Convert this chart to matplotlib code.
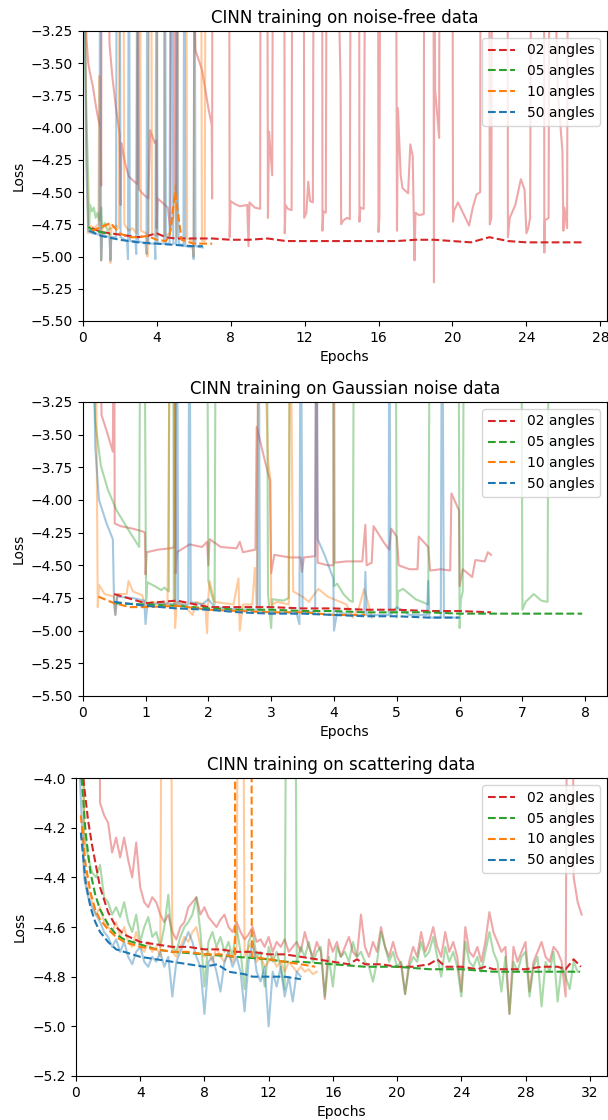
import matplotlib
matplotlib.use("Agg")
import matplotlib.pyplot as plt
import numpy as np

# loss values that lie above the visible range (spikes that leave the chart)
HIGH = -2.0
HIGH_SC = -1.0

labels = ["02 angles", "05 angles", "10 angles", "50 angles"]
colors = ["tab:red", "tab:green", "tab:orange", "tab:blue"]

# ---------------- noise-free data ----------------
nf_red_x = [0.15, 0.2, 0.3, 0.4, 0.55, 0.7, 0.85, 0.98, 1.0, 1.02, 1.35, 1.45, 1.6, 1.8, 2.0, 2.05, 2.1, 2.3, 2.5, 2.8,
            2.98, 3.0, 3.05, 3.3, 3.55, 3.65, 3.9, 3.98, 4.0, 4.05, 4.3, 4.6, 4.75, 4.8, 4.95, 5.0, 5.05, 5.12, 5.9, 6.1,
            6.45, 6.8, 6.98, 7.0, 7.02, 7.92, 7.95, 8.0, 8.2, 8.5, 8.9, 8.97, 9.02, 9.3, 9.6, 9.62, 9.98, 10.02, 10.08,
            10.25, 10.3, 10.9, 10.93, 10.97, 11.1, 11.3, 11.34, 11.96, 11.98, 12.1, 12.2, 12.3, 12.45, 12.5, 12.95,
            12.97, 13.02, 13.15, 13.2, 13.7, 13.95, 13.98, 14.1, 14.3, 14.45, 14.5, 14.95, 14.97, 15.02, 15.2, 15.3,
            15.97, 16.0, 16.05, 16.1, 16.94, 17.0, 17.05, 17.2, 17.3, 17.6, 17.72, 17.85, 17.95, 18.0, 18.2, 18.45,
            18.47, 18.97, 19.0, 19.02, 19.06, 19.28, 19.3, 20.0, 20.03, 20.1, 20.3, 20.5, 20.7, 20.9, 21.1, 21.3, 21.5,
            21.52, 21.98, 22.02, 22.1, 22.15, 22.98, 23.0, 23.1, 23.4, 23.7, 23.9, 24.0, 24.1, 24.2, 24.27, 24.95,
            24.97, 25.0, 25.2, 25.25, 25.4, 25.7, 25.95, 26.0, 26.05, 26.2, 26.25]
nf_red_y = [HIGH, -3.30, -3.50, -3.58, -3.68, -3.82, -3.94, -4.00, -4.45, HIGH, HIGH, -3.35, -3.60, -3.85, -4.05, -4.60,
            -4.12, -4.28, -4.38, -4.42, -4.44, HIGH, -4.48, -4.52, -4.55, -4.02, -4.12, -4.10, -4.78, -4.55, -4.58,
            -4.62, -4.80, HIGH, HIGH, -4.45, -4.55, HIGH, HIGH, -3.40, -3.55, -3.85, -3.98, -4.55, HIGH, HIGH, -4.85,
            -4.57, -4.59, -4.61, -4.60, -4.92, -4.58, -4.62, -4.63, HIGH, HIGH, -4.70, -4.03, -4.37, HIGH, HIGH, -4.82,
            -4.60, -4.63, -4.64, HIGH, HIGH, -4.70, -4.66, -4.42, -4.57, -4.58, HIGH, HIGH, -4.80, -4.65, -4.66, HIGH,
            HIGH, -3.65, -4.75, -4.72, -4.70, -4.71, HIGH, HIGH, -4.73, -4.62, -4.63, HIGH, HIGH, -4.81, -4.70, HIGH,
            HIGH, -4.80, -3.85, -4.37, -4.47, -4.51, -4.13, -4.22, -5.03, -4.66, -4.68, -4.67, HIGH, HIGH, -5.20, HIGH,
            -3.70, -4.08, HIGH, HIGH, -4.73, -4.64, -4.58, -4.64, -4.70, -4.76, -4.62, -4.52, -4.50, HIGH, HIGH, -4.75,
            -4.70, HIGH, HIGH, -4.85, -4.70, -4.60, -4.40, -4.48, -4.82, -4.78, -4.70, HIGH, HIGH, -4.97, -4.72, -4.70,
            HIGH, HIGH, -3.72, -4.19, -4.80, -4.62, -4.78, HIGH]
nf_green_x = [0.05, 0.1, 0.2, 0.3, 0.35, 0.4, 0.5, 0.6, 0.7, 0.8, 0.9, 1.0, 1.05, 1.2, 1.35, 1.5]
nf_green_y = [HIGH, -3.30, -3.90, -4.40, -4.75, -4.60, -4.65, -4.62, -4.70, -4.66, -4.72, -4.62, -4.78, -4.74, -4.80, -4.78]
nf_orange_x = [0.1, 0.2, 0.3, 0.4, 0.6, 0.85, 0.9, 0.95, 1.0, 1.05, 1.3, 1.45, 1.5, 1.55, 1.8, 1.95, 2.0, 2.2, 2.25, 2.5,
               2.7, 2.9, 3.0, 3.1, 3.15, 3.45, 3.5, 3.55, 3.6, 3.7, 3.75, 4.0, 4.05, 4.4, 4.45, 4.7, 4.9, 5.0, 5.1,
               5.2, 5.6, 5.65, 5.95, 6.0, 6.05, 6.4, 6.45, 6.6, 6.65]
nf_orange_y = [HIGH, -4.10, -4.82, -4.76, -4.78, -4.75, -3.60, -4.80, -5.03, -4.78, -4.76, -4.75, -5.05, -4.78, -4.76,
               -4.78, HIGH, HIGH, -4.75, -4.80, -4.78, -4.82, HIGH, HIGH, -4.80, -4.82, -5.00, -4.80, HIGH, HIGH, -4.82,
               -4.84, HIGH, HIGH, -4.84, -4.82, -4.70, -4.45, -4.85, HIGH, HIGH, -4.86, -4.88, -5.00, HIGH, HIGH, -4.88,
               -4.88, HIGH]
nf_blue_x = [0.05, 0.2, 0.3, 0.5, 0.9, 0.95, 1.0, 1.05, 1.45, 1.5, 1.55, 1.8, 1.85, 2.0, 2.05, 2.4, 2.45, 2.5, 2.55,
             2.85, 2.9, 2.95, 3.0, 3.4, 3.45, 3.5, 3.55, 3.9, 3.93, 4.0, 4.05, 4.4, 4.45, 4.5, 4.7, 4.75, 4.85, 4.9,
             5.05, 5.1, 5.15, 5.2, 5.45, 5.5, 5.55, 5.95, 6.0, 6.05, 6.1, 6.5]
nf_blue_y = [HIGH, -4.30, -4.80, -4.82, -4.83, HIGH, -5.03, -4.83, -4.85, -5.03, -4.85, -4.85, HIGH, HIGH, -4.85, -4.88,
             -5.02, HIGH, -4.88, -4.88, -4.98, HIGH, -4.88, -4.90, -4.98, HIGH, -4.90, -4.90, -5.02, HIGH, -4.90, -4.90,
             HIGH, -4.90, -4.90, HIGH, HIGH, -4.90, -4.90, HIGH, -4.55, -4.90, -4.92, HIGH, -4.92, -4.93, -5.02, HIGH,
             -4.92, -4.93]

nf_red_dash_x = [0.5, 1, 1.5, 2, 2.5, 3, 3.5, 4, 4.5, 5, 5.5, 6, 7, 8, 9, 10, 11, 12, 13, 14, 15, 16, 17, 18, 19, 20,
                 21, 22, 23, 24, 25, 26, 27]
nf_red_dash_y = [-4.78, -4.81, -4.82, -4.83, -4.84, -4.85, -4.84, -4.82, -4.85, -4.86, -4.86, -4.86, -4.86, -4.87,
                 -4.87, -4.86, -4.88, -4.88, -4.88, -4.88, -4.88, -4.88, -4.88, -4.87, -4.87, -4.88, -4.89, -4.85,
                 -4.88, -4.89, -4.89, -4.89, -4.89]
nf_green_dash_x = [0.3, 0.6, 1.0, 1.5]
nf_green_dash_y = [-4.77, -4.80, -4.81, -4.83]
nf_orange_dash_x = [0.5, 1.0, 1.5, 2.0, 2.5, 3.0, 3.5, 4.0, 4.5, 4.7, 5.0, 5.35, 6.0, 6.5, 7.0]
nf_orange_dash_y = [-4.80, -4.77, -4.74, -4.82, -4.85, -4.85, -4.84, -4.87, -4.88, -4.84, -4.50, -4.87, -4.90, -4.90,
                    -4.90]
nf_blue_dash_x = [0.35, 1, 2, 3, 4, 5, 6, 6.5]
nf_blue_dash_y = [-4.80, -4.84, -4.87, -4.89, -4.90, -4.91, -4.92, -4.92]

# ---------------- Gaussian noise data ----------------
ga_red_x = [0.26, 0.3, 0.4, 0.48, 0.5, 0.51, 0.6, 0.8, 0.95, 0.99, 1.0, 1.02, 1.2, 1.4, 1.46, 1.47, 1.48, 1.5, 1.7, 1.9,
            1.98, 2.0, 2.02, 2.2, 2.45, 2.5, 2.55, 2.75, 2.77, 2.9, 2.98, 3.0, 3.05, 3.3, 3.47, 3.49, 3.52, 3.7, 3.72,
            3.74, 3.9, 3.99, 4.0, 4.01, 4.2, 4.45, 4.5, 4.52, 4.6, 4.63, 4.8, 4.88, 4.91, 5.0, 5.03, 5.2, 5.33, 5.35,
            5.5, 5.53, 5.7, 5.85, 5.87, 5.99, 6.0, 6.05, 6.15, 6.2, 6.25, 6.4, 6.45, 6.5]
ga_red_y = [HIGH, -3.35, -3.50, -3.63, HIGH, -4.18, -4.20, -4.22, -4.24, -4.25, -4.57, -4.40, -4.38, -4.37, -4.36, HIGH,
            -4.56, -4.40, -4.34, -4.36, -4.32, -4.50, -4.30, -4.36, -4.37, -4.32, -4.40, -4.38, -3.44, -3.70, -3.85,
            -4.56, -4.42, -4.44, -4.44, -4.55, -4.44, -4.43, HIGH, -4.48, -4.50, -4.50, HIGH, -4.48, -4.47, -4.47,
            -4.19, -4.50, -4.48, -4.20, -4.33, -4.38, -4.22, -4.28, -4.50, -4.53, -4.53, -4.28, -4.36, -4.54, -4.53,
            -4.54, -3.95, -4.08, -4.66, -4.53, -4.57, -4.59, -4.46, -4.47, -4.40, -4.42]
ga_green_x = [0.1, 0.2, 0.29, 0.4, 0.54, 0.73, 0.9, 0.92, 0.98, 1.0, 1.01, 1.03, 1.15, 1.25, 1.3, 1.37, 1.38, 1.44, 1.45,
              1.5, 1.98, 2.0, 2.05, 2.1, 2.12, 2.93, 2.95, 3.0, 3.02, 3.2, 3.28, 3.3, 3.98, 4.0, 4.05, 4.15, 4.25, 4.3,
              4.32, 4.98, 5.0, 5.02, 5.1, 5.3, 5.5, 5.53, 5.98, 6.0, 6.02, 6.05, 6.07, 6.98, 7.0, 7.05, 7.18, 7.3, 7.4,
              7.42]
ga_green_y = [HIGH, -3.40, -3.74, -3.92, -4.08, -4.23, -4.36, HIGH, HIGH, -3.92, -4.78, -4.63, -4.66, -4.69, -4.67,
              -4.70, HIGH, HIGH, -4.80, HIGH, HIGH, -4.62, -4.72, -4.80, HIGH, HIGH, -4.72, -4.98, -4.76, -4.77, -4.75,
              HIGH, HIGH, -4.66, -4.64, -4.72, -4.77, -4.78, HIGH, HIGH, -4.90, -4.70, -4.68, -4.76, -4.80, HIGH, HIGH,
              -4.98, -4.76, -4.70, HIGH, HIGH, -4.84, -4.78, -4.72, -4.77, -4.78, HIGH]
ga_orange_x = [0.2, 0.24, 0.26, 0.35, 0.5, 0.52, 0.55, 0.7, 0.73, 0.8, 0.95, 1.0, 1.1, 1.35, 1.4, 1.45, 1.47, 1.5, 1.6,
               1.75, 1.8, 1.95, 1.98, 2.0, 2.02, 2.1, 2.4, 2.48, 2.5, 2.55, 2.7, 2.74, 2.77, 2.8, 2.85, 2.95, 2.99, 3.0,
               3.1, 3.28, 3.3, 3.35, 3.5, 3.6, 3.75, 3.9, 4.0, 4.2, 4.3, 4.4, 4.48, 4.55, 4.6]
ga_orange_y = [HIGH, -4.82, -4.65, -4.72, -4.74, -4.88, -4.72, -4.72, -4.62, -4.70, -4.73, -4.82, -4.78, -4.80, HIGH,
               HIGH, -4.98, -4.78, -4.80, -4.88, -4.78, -4.80, -5.02, -4.75, -4.62, -4.78, -4.80, -4.60, -5.00, -4.80,
               -4.80, -4.52, -4.82, HIGH, HIGH, -3.70, -3.85, -4.80, -4.78, -4.80, HIGH, -4.70, -4.74, -4.78, -4.68,
               -4.74, -4.76, -4.80, -4.90, -4.82, -4.68, -4.80, -4.90]
ga_blue_x = [0.15, 0.2, 0.26, 0.38, 0.48, 0.5, 0.52, 0.55, 0.8, 0.98, 1.0, 1.03, 1.3, 1.48, 1.5, 1.52, 1.68, 1.7, 1.72,
             1.9, 2.0, 2.1, 2.5, 2.78, 2.8, 2.82, 3.0, 3.4, 3.45, 3.47, 3.5, 3.7, 3.72, 3.74, 3.85, 3.95, 3.99, 4.0,
             4.05, 4.3, 4.48, 4.5, 4.52, 4.8, 4.87, 4.88, 4.9, 5.0, 5.2, 5.48, 5.5, 5.52, 5.7, 5.72, 5.75, 5.95]
ga_blue_y = [HIGH, -3.60, -4.00, -4.18, -4.30, -4.80, -4.88, -4.74, -4.75, -4.77, -4.95, -4.80, -4.79, -4.80, HIGH,
             -4.80, -4.80, HIGH, -4.78, -4.80, -4.76, -4.82, -4.84, -4.84, HIGH, -4.85, -4.86, -4.86, -4.95, HIGH,
             -4.86, -4.86, HIGH, -4.30, -4.42, -4.55, -4.60, -5.00, -4.86, -4.88, -4.88, -4.55, -4.88, -4.88, -4.88,
             HIGH, -4.88, -4.82, -4.88, -4.88, -4.62, -4.90, -4.90, HIGH, -4.90, -4.90]

ga_red_dash_x = [0.5, 1, 1.5, 2, 2.5, 3, 3.5, 4, 4.5, 5, 5.5, 6, 6.5]
ga_red_dash_y = [-4.72, -4.79, -4.77, -4.82, -4.82, -4.82, -4.83, -4.83, -4.84, -4.84, -4.85, -4.85, -4.86]
ga_green_dash_x = [0.5, 1, 1.5, 2, 2.5, 3, 3.5, 4, 4.5, 5, 5.5, 6, 6.5, 7, 7.5, 7.95]
ga_green_dash_y = [-4.79, -4.80, -4.81, -4.83, -4.84, -4.84, -4.85, -4.85, -4.86, -4.86, -4.86, -4.87, -4.87, -4.87,
                   -4.87, -4.87]
ga_orange_dash_x = [0.25, 0.5, 0.75, 1, 1.5, 2, 2.5, 3, 3.5, 4, 4.5]
ga_orange_dash_y = [-4.74, -4.79, -4.82, -4.82, -4.81, -4.84, -4.85, -4.86, -4.86, -4.88, -4.88]
ga_blue_dash_x = [0.5, 1, 1.5, 2, 2.5, 3, 3.5, 4, 4.5, 5, 5.5, 6]
ga_blue_dash_y = [-4.78, -4.81, -4.83, -4.84, -4.86, -4.87, -4.87, -4.88, -4.89, -4.89, -4.90, -4.90]

# ---------------- scattering data (raw loss sampled every 0.25 epochs) ----------------
sc_step = 0.25
sc_red_start = 1.25
sc_red_y = [HIGH_SC, -4.10, -4.15, -4.18, -4.30, -4.24, -4.32, -4.24, -4.33, -4.40, -4.26, -4.44, -4.50, -4.52, -4.48,
            -4.50, -4.55, -4.58, -4.55, -4.62, -4.65, -4.60, -4.58, -4.52, -4.50, -4.48, -4.55, -4.52, -4.56, -4.58,
            -4.60, -4.57, -4.55, -4.60, -4.62, -4.58, -4.62, -4.65, -4.63, -4.60, -4.66, -4.65, -4.68, -4.64, -4.70,
            -4.66, -4.68, -4.65, -4.70, -4.68, -4.66, -4.70, -4.62, -4.68, -4.72, -4.66, -4.70, -4.89, -4.65, -4.70,
            -4.66, -4.72, -4.68, -4.64, -4.70, -4.72, -4.55, -4.68, -4.72, -4.66, -4.70, -4.60, -4.68, -4.72, -4.66,
            -4.72, -4.75, -4.87, -4.74, -4.68, -4.72, -4.62, -4.70, -4.66, -4.60, -4.68, -4.72, -4.62, -4.70, -4.66,
            -4.72, -4.86, -4.60, -4.70, -4.72, -4.68, -4.74, -4.66, -4.54, -4.62, -4.66, -4.70, -4.68, -4.95, -4.68,
            -4.74, -4.70, -4.66, -4.86, -4.74, -4.70, -4.66, -4.72, -4.74, -4.68, -4.70, -4.74, -4.88, HIGH_SC,
            -4.40, -4.50, -4.55]
sc_green_start = 0.25
sc_green_y = [HIGH_SC, -4.22, -4.32, -4.38, -4.40, -4.35, -4.48, -4.50, -4.55, -4.52, -4.56, -4.50, -4.58, -4.62,
              -4.55, -4.66, -4.60, -4.56, -4.64, -4.62, -4.68, -4.60, -4.47, -4.68, -4.70, -4.64, -4.60, -4.58, -4.55,
              -4.48, -4.62, -4.84, -4.66, -4.62, -4.68, -4.64, -4.70, -4.66, -4.72, -4.60, -4.70, -4.85, -4.66, -4.62,
              -4.72, -4.70, -4.84, -4.68, -4.74, -4.70, -4.76, -4.85, HIGH_SC, HIGH_SC, -4.74, -4.68, -4.72, -4.66,
              -4.74, -4.70, -4.68, -4.88, -4.72, -4.84, -4.68, -4.72, -4.70, -4.74, -4.66, -4.72, -4.70, -4.74, -4.76,
              -4.82, -4.74, -4.62, -4.68, -4.74, -4.70, -4.76, -4.74, -4.87, -4.76, -4.72, -4.74, -4.66, -4.72, -4.70,
              -4.64, -4.72, -4.80, -4.68, -4.74, -4.70, -4.76, -4.88, -4.66, -4.74, -4.76, -4.72, -4.78, -4.70, -4.62,
              -4.70, -4.74, -4.86, -4.72, -4.95, -4.74, -4.78, -4.72, -4.70, -4.88, -4.76, -4.72, -4.92, -4.74, -4.78,
              -4.70, -4.90, -4.76, -4.80, -4.85, -4.74, -4.78]
sc_orange_start = 0.25
sc_orange_y = [HIGH_SC, -4.35, -4.45, -4.50, -4.55, -4.52, -4.58, -4.60, -4.62, -4.58, -4.64, -4.60, -4.66, -4.68,
               -4.62, -4.68, -4.70, -4.66, -4.70, -4.68, -4.72, HIGH_SC, HIGH_SC, -4.70, -4.72, -4.68, -4.64, -4.66,
               -4.62, -4.60, -4.68, -4.72, -4.70, -4.74, -4.68, -4.72, -4.74, -4.70, -4.74, -4.70, HIGH_SC, -4.72,
               -4.68, -4.66, -4.74, -4.72, -4.76, -4.74, -4.72, -4.76, -4.74, -4.78, -4.74, -4.76, -4.78, -4.76,
               -4.78, -4.77, -4.79, -4.78]
sc_blue_start = 0.25
sc_blue_y = [-4.00, -4.40, -4.48, -4.52, -4.55, -4.58, -4.62, -4.64, -4.68, -4.65, -4.70, -4.66, -4.72, -4.75, -4.70,
             -4.68, -4.74, -4.76, -4.72, -4.74, -4.70, -4.76, -4.72, -4.88, -4.74, -4.70, -4.66, -4.62, -4.66, -4.72,
             -4.76, -4.95, -4.74, -4.72, -4.78, -4.86, -4.74, -4.70, -4.76, -4.72, -4.78, -4.94, -4.74, -4.66, -4.78,
             -4.82, -4.76, -5.00, -4.78, -4.84, -4.76, -4.88, -4.80, -4.90, -4.78, -4.80]

sc_red_dash_x = [0.45, 0.75, 1.0, 1.5, 2.0, 2.5, 3.0, 4.0, 5.0, 6.0, 7.0, 8.0, 9.0, 10.0, 11.0, 12.0, 13.0, 14.0, 15.0,
                 16.0, 17.0, 17.5, 18.0, 19.0, 20.0, 21.0, 22.0, 22.5, 23.0, 24.0, 25.0, 25.5, 26.0, 27.0, 28.0, 29.0,
                 30.0, 30.5, 31.0, 31.45]
sc_red_dash_y = [-4.00, -4.17, -4.27, -4.44, -4.54, -4.60, -4.63, -4.66, -4.67, -4.68, -4.68, -4.69, -4.69, -4.70,
                 -4.70, -4.71, -4.71, -4.72, -4.73, -4.74, -4.75, -4.73, -4.75, -4.75, -4.76, -4.76, -4.75, -4.73,
                 -4.76, -4.76, -4.77, -4.76, -4.77, -4.77, -4.77, -4.76, -4.76, -4.77, -4.73, -4.76]
sc_green_dash_x = [0.35, 0.6, 0.9, 1.2, 1.5, 2.0, 2.5, 3.0, 4.0, 5.0, 6.0, 8.0, 10.0, 12.0, 13.0, 14.0, 16.0, 18.0, 20.0,
                   22.0, 24.0, 26.0, 28.0, 30.0, 31.4]
sc_green_dash_y = [-4.00, -4.22, -4.38, -4.47, -4.53, -4.59, -4.63, -4.65, -4.67, -4.69, -4.70, -4.71, -4.72, -4.73,
                   -4.74, -4.74, -4.75, -4.76, -4.76, -4.77, -4.77, -4.78, -4.78, -4.78, -4.78]
sc_orange_dash_x = [0.3, 0.6, 0.9, 1.2, 1.5, 2.0, 2.5, 3.0, 4.0, 5.0, 6.0, 7.0, 8.0, 9.0, 9.9, 9.95, 10.9, 10.95, 12.0,
                    13.0, 14.0, 14.9]
sc_orange_dash_y = [-4.15, -4.35, -4.46, -4.53, -4.57, -4.61, -4.64, -4.66, -4.68, -4.69, -4.70, -4.70, -4.71, -4.71,
                    -4.72, HIGH_SC, HIGH_SC, -4.72, -4.73, -4.74, -4.75, -4.76]
sc_blue_dash_x = [0.3, 0.6, 0.9, 1.2, 1.5, 2.0, 2.5, 3.0, 4.0, 5.0, 6.0, 7.0, 8.0, 8.8, 9.5, 10.5, 11.0, 12.0, 13.0, 14.0]
sc_blue_dash_y = [-4.22, -4.42, -4.52, -4.58, -4.62, -4.66, -4.69, -4.70, -4.72, -4.73, -4.74, -4.75, -4.76, -4.75,
                  -4.78, -4.79, -4.80, -4.80, -4.80, -4.81]


def sc_x(start, ys):
    return start + sc_step * np.arange(len(ys))


def plot_panel(ax, raws, dashes, title, ylim, yticks, xticks):
    for (x, y), c in zip(raws, colors):
        ax.plot(x, y, color=c, alpha=0.4, linewidth=1.5)
    for (x, y), c, lab in zip(dashes, colors, labels):
        ax.plot(x, y, "--", color=c, linewidth=1.5, label=lab)
    ax.set_xlim(left=0)
    ax.set_ylim(ylim)
    ax.set_yticks(yticks)
    ax.set_xticks(xticks)
    ax.set_xlabel("Epochs")
    ax.set_ylabel("Loss")
    ax.set_title(title)
    ax.legend(loc="upper right")


fig = plt.figure(figsize=(6.08, 11.2), dpi=100)

ax1 = fig.add_axes([0.136, 0.7134, 0.862, 0.259])
plot_panel(ax1,
           [(nf_red_x, nf_red_y), (nf_green_x, nf_green_y), (nf_orange_x, nf_orange_y), (nf_blue_x, nf_blue_y)],
           [(nf_red_dash_x, nf_red_dash_y), (nf_green_dash_x, nf_green_dash_y),
            (nf_orange_dash_x, nf_orange_dash_y), (nf_blue_dash_x, nf_blue_dash_y)],
           "CINN training on noise-free data", (-5.5, -3.25), np.arange(-5.5, -3.2, 0.25), range(0, 29, 4))

ax2 = fig.add_axes([0.136, 0.3786, 0.862, 0.2625])
plot_panel(ax2,
           [(ga_red_x, ga_red_y), (ga_green_x, ga_green_y), (ga_orange_x, ga_orange_y), (ga_blue_x, ga_blue_y)],
           [(ga_red_dash_x, ga_red_dash_y), (ga_green_dash_x, ga_green_dash_y),
            (ga_orange_dash_x, ga_orange_dash_y), (ga_blue_dash_x, ga_blue_dash_y)],
           "CINN training on Gaussian noise data", (-5.5, -3.25), np.arange(-5.5, -3.2, 0.25), range(0, 9))

ax3 = fig.add_axes([0.125, 0.0393, 0.873, 0.266])
plot_panel(ax3,
           [(sc_x(sc_red_start, sc_red_y), sc_red_y), (sc_x(sc_green_start, sc_green_y), sc_green_y),
            (sc_x(sc_orange_start, sc_orange_y), sc_orange_y), (sc_x(sc_blue_start, sc_blue_y), sc_blue_y)],
           [(sc_red_dash_x, sc_red_dash_y), (sc_green_dash_x, sc_green_dash_y),
            (sc_orange_dash_x, sc_orange_dash_y), (sc_blue_dash_x, sc_blue_dash_y)],
           "CINN training on scattering data", (-5.2, -4.0), np.arange(-5.2, -3.95, 0.2), range(0, 33, 4))

fig.savefig("out.png", dpi=100)
